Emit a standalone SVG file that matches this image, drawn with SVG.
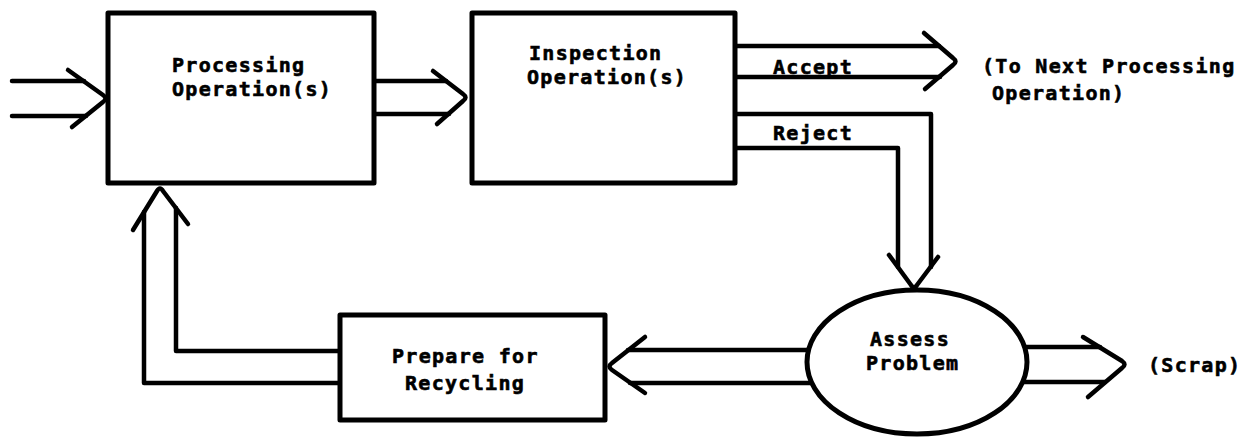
<svg xmlns="http://www.w3.org/2000/svg" width="1252" height="441" viewBox="0 0 1252 441">
<style>
.box{fill:#fff;stroke:#000;stroke-width:5;stroke-linejoin:round}
.ln{fill:none;stroke:#000;stroke-width:4.5;stroke-linecap:round;stroke-linejoin:round}
.t{font-family:"DejaVu Sans Mono","Liberation Mono",monospace;font-weight:bold;font-size:20px;letter-spacing:1.3px;fill:#000;stroke:#000;stroke-width:0.6}
</style>
<rect width="1252" height="441" fill="#fff"/>
<g id="connectors">
<path class="ln" d="M12,81 L84,81 M12,116 L86,116"/>
<path class="ln" d="M68,70 L103,95 Q108,98.5 103,102 L72,127"/>
<path class="ln" d="M374,81 L446,81 M374,114 L449,114"/>
<path class="ln" d="M433,71 L463,94 Q468,97.5 463,101 L437,124"/>
<path class="ln" d="M735,46 L939,46 M735,77 L940,77"/>
<path class="ln" d="M924,33 L953,58 Q958,61.5 953,65 L925,89"/>
<path class="ln" d="M735,114 L931,114 L931,267 M735,148 L898,148 L898,267"/>
<path class="ln" d="M889,255 L911,285 Q914,290 917,285 L938,257"/>
<path class="ln" d="M1024,347 L1100,347 M1022,382 L1105,382"/>
<path class="ln" d="M1083,337 L1122,361 Q1127,364.5 1122,368 L1088,397"/>
<path class="ln" d="M808,350 L628,350 M811,383 L630,383"/>
<path class="ln" d="M645,337 L612,363 Q607,366.5 612,370 L645,393"/>
<path class="ln" d="M340,383 L144,383 L144,212 M340,351 L176,351 L176,208"/>
<path class="ln" d="M133,230 L157,191 Q160,186 163,191 L188,224"/>
</g>
<g id="processing">
<rect class="box" x="108" y="13" width="266" height="170"/>
<text class="t" x="172" y="72">Processing</text>
<text class="t" x="172" y="96">Operation(s)</text>
</g>
<g id="inspection">
<rect class="box" x="472" y="13" width="263" height="170"/>
<text class="t" x="529" y="60">Inspection</text>
<text class="t" x="527" y="84">Operation(s)</text>
</g>
<g id="labels">
<text class="t" x="773" y="74">Accept</text>
<text class="t" x="773" y="140">Reject</text>
<text class="t" x="982" y="73">(To Next Processing</text>
<text class="t" x="992" y="100">Operation)</text>
<text class="t" x="1148" y="372">(Scrap)</text>
</g>
<g id="assess">
<ellipse class="box" cx="917" cy="362" rx="110" ry="72"/>
<text class="t" x="870" y="346">Assess</text>
<text class="t" x="866" y="370">Problem</text>
</g>
<g id="prepare">
<rect class="box" x="340" y="315" width="265" height="105"/>
<text class="t" x="392" y="363">Prepare for</text>
<text class="t" x="405" y="390">Recycling</text>
</g>
</svg>
